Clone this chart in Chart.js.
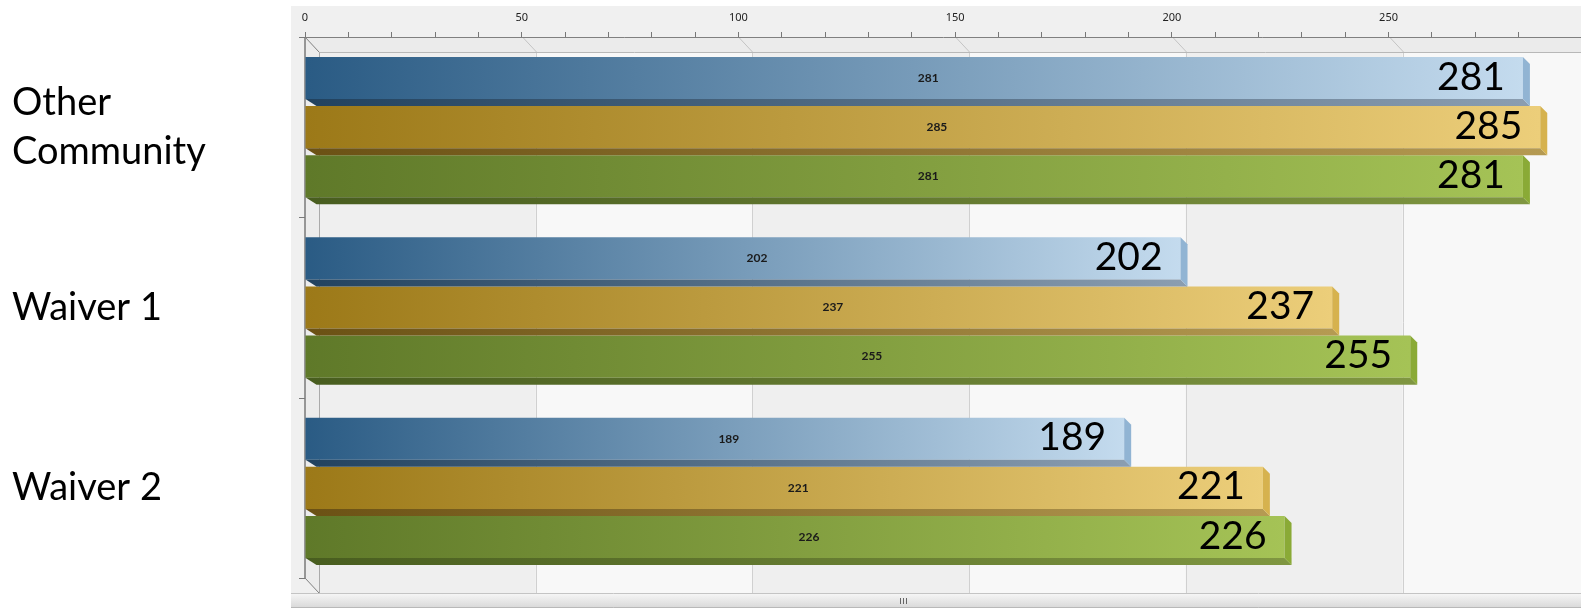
<!DOCTYPE html>
<html lang="en">
<head>
<meta charset="UTF-8">
<title>Other Community / Waiver 1 / Waiver 2</title>
<style>
    body { margin: 0; background: #fff; }
    canvas { display: block; }
</style>
<script src="https://cdn.jsdelivr.net/npm/chart.js"></script>
</head>
<body>
<canvas id="chart" width="1581" height="609"></canvas>
<script>
// data
const categories = [['Other', 'Community'], 'Waiver 1', 'Waiver 2'];
const seriesNames = ['Series 1', 'Series 2', 'Series 3'];
const series1 = [281, 202, 189];
const series2 = [285, 237, 221];
const series3 = [281, 255, 226];
const axisMax = 294.4;
const minorStep = 10;
const labelStep = 50;

// per series: bar left, bar right, bottom face left, bottom face right, end face
const palette = [
    ['#2a5b84', '#c4dbee', '#21425f', '#8a9db0', '#91b4d3'],
    ['#9c7918', '#ecce7a', '#6b5114', '#b59a52', '#d6b24e'],
    ['#5f7929', '#a5c356', '#485d1f', '#7f9641', '#8aaa36']
];

const DX = 14, DY = 15;   // depth of the walls
const BD = 7;             // depth of a bar

function barGradient(di) {
    return (c) => {
        const x = c.chart.scales.x;
        if (!x || c.type !== 'data') return palette[di][0];
        const x0 = x.getPixelForValue(0), x1 = x.getPixelForValue(c.raw);
        if (!Number.isFinite(x0) || !Number.isFinite(x1) || x0 === x1) return palette[di][0];
        const g = c.chart.ctx.createLinearGradient(x0, 0, x1, 0);
        g.addColorStop(0, palette[di][0]);
        g.addColorStop(1, palette[di][1]);
        return g;
    };
}

// grey panel, walls, grid and scroll bar
const wallsPlugin = {
    id: 'walls',
    beforeDraw(chart) {
        const { ctx, chartArea: a, scales: { x } } = chart;
        const W = chart.width, H = chart.height;
        ctx.save();
        ctx.fillStyle = '#ffffff';
        ctx.fillRect(0, 0, W, H);
        ctx.fillStyle = '#f0f0f0';
        ctx.fillRect(a.left - 14, 6, W - a.left + 14, H - 7);

        const wallTop = a.top + DY, wallBottom = a.bottom + DY;
        // back wall bands
        let k = 0;
        for (let v = 0; v < axisMax; v += labelStep, k++) {
            const x1 = x.getPixelForValue(v) + DX;
            const x2 = Math.min(x.getPixelForValue(v + labelStep) + DX, a.right);
            ctx.fillStyle = k % 2 === 0 ? '#efefef' : '#f8f8f8';
            ctx.fillRect(x1, wallTop, x2 - x1, wallBottom - wallTop);
        }
        // top wall
        ctx.fillStyle = '#ebebeb';
        ctx.beginPath();
        ctx.moveTo(a.left, a.top); ctx.lineTo(a.right, a.top);
        ctx.lineTo(a.right, wallTop); ctx.lineTo(a.left + DX, wallTop);
        ctx.closePath(); ctx.fill();
        // left wall
        ctx.fillStyle = '#ececec';
        ctx.beginPath();
        ctx.moveTo(a.left, a.top); ctx.lineTo(a.left + DX, wallTop);
        ctx.lineTo(a.left + DX, wallBottom); ctx.lineTo(a.left, a.bottom);
        ctx.closePath(); ctx.fill();

        ctx.lineWidth = 1;
        for (let v = labelStep; v < axisMax; v += labelStep) {
            const xf = Math.round(x.getPixelForValue(v)) + 0.5;
            const xb = xf + DX;
            ctx.strokeStyle = '#d0d0d0';
            ctx.beginPath(); ctx.moveTo(xb, wallTop); ctx.lineTo(xb, wallBottom); ctx.stroke();
            ctx.strokeStyle = '#c4c4c4';
            ctx.beginPath(); ctx.moveTo(xf, a.top); ctx.lineTo(xb, wallTop); ctx.stroke();
        }
        ctx.strokeStyle = '#b8b8b8';
        ctx.beginPath(); ctx.moveTo(a.left + DX, wallTop + 0.5); ctx.lineTo(a.right, wallTop + 0.5); ctx.stroke();
        ctx.strokeStyle = '#aaaaaa';
        ctx.beginPath(); ctx.moveTo(a.left + DX + 0.5, wallTop); ctx.lineTo(a.left + DX + 0.5, wallBottom); ctx.stroke();

        // front frame
        ctx.strokeStyle = '#808080';
        ctx.beginPath(); ctx.moveTo(a.left, a.top); ctx.lineTo(a.left + DX, wallTop); ctx.stroke();
        ctx.beginPath(); ctx.moveTo(a.left, a.bottom); ctx.lineTo(a.left + DX, wallBottom); ctx.stroke();
        ctx.lineWidth = 1.5;
        ctx.strokeStyle = '#7a7a7a';
        ctx.beginPath(); ctx.moveTo(a.left, a.top); ctx.lineTo(a.left, a.bottom); ctx.stroke();
        ctx.lineWidth = 1;
        const n = categories.length;
        for (let i = 0; i <= n; i++) {
            const yy = Math.round(a.top + i * a.height / n) + 0.5;
            ctx.beginPath(); ctx.moveTo(a.left - 6, yy); ctx.lineTo(a.left, yy); ctx.stroke();
        }

        // scroll bar
        const sTop = wallBottom;
        const g = ctx.createLinearGradient(0, sTop, 0, H - 1);
        g.addColorStop(0, '#f7f7f7');
        g.addColorStop(1, '#d8d8d8');
        ctx.fillStyle = g;
        ctx.fillRect(a.left - 14, sTop, W - a.left + 14, H - 1 - sTop);
        ctx.strokeStyle = '#c4c4c4';
        ctx.beginPath(); ctx.moveTo(a.left - 14, sTop + 0.5); ctx.lineTo(W, sTop + 0.5); ctx.stroke();
        ctx.strokeStyle = '#b8b8b8';
        ctx.beginPath(); ctx.moveTo(a.left - 14, H - 1.5); ctx.lineTo(W, H - 1.5); ctx.stroke();
        ctx.strokeStyle = '#666';
        for (let i = 0; i < 3; i++) {
            const gx = 900.5 + i * 3;
            ctx.beginPath(); ctx.moveTo(gx, sTop + 5); ctx.lineTo(gx, sTop + 11); ctx.stroke();
        }
        ctx.restore();
    }
};

// bottom and end faces of the bars, then the value labels
const barsPlugin = {
    id: 'bars3d',
    afterDatasetsDraw(chart) {
        const { ctx } = chart;
        ctx.save();
        const metas = chart.data.datasets.map((d, di) => chart.getDatasetMeta(di));
        metas.forEach((meta, di) => {
            meta.data.forEach(bar => {
                const top = bar.y - bar.height / 2, bot = bar.y + bar.height / 2;
                const g = ctx.createLinearGradient(bar.base, 0, bar.x, 0);
                g.addColorStop(0, palette[di][2]);
                g.addColorStop(1, palette[di][3]);
                ctx.fillStyle = g;
                ctx.beginPath();
                ctx.moveTo(bar.base, bot); ctx.lineTo(bar.x, bot);
                ctx.lineTo(bar.x + BD, bot + BD); ctx.lineTo(bar.base + 11, bot + BD);
                ctx.closePath(); ctx.fill();
                ctx.fillStyle = palette[di][4];
                ctx.beginPath();
                ctx.moveTo(bar.x, top); ctx.lineTo(bar.x + BD, top + BD);
                ctx.lineTo(bar.x + BD, bot + BD); ctx.lineTo(bar.x, bot);
                ctx.closePath(); ctx.fill();
            });
        });
        metas.forEach((meta, di) => {
            const values = chart.data.datasets[di].data;
            meta.data.forEach((bar, i) => {
                ctx.textBaseline = 'middle';
                ctx.fillStyle = '#1a1a1a';
                ctx.font = 'bold 12px Lato';
                ctx.textAlign = 'center';
                ctx.fillText(String(values[i]), (bar.base + bar.x) / 2 + DX, bar.y);
                ctx.fillStyle = '#000';
                ctx.font = '39px Lato';
                ctx.textAlign = 'right';
                ctx.fillText(String(values[i]), bar.x - 18, bar.y - 1);
            });
        });
        ctx.restore();
    }
};

const ctx = document.getElementById('chart').getContext('2d');
new Chart(ctx, {
    type: 'bar',
    data: {
        labels: categories,
        datasets: [series1, series2, series3].map((s, di) => ({
            label: seriesNames[di],
            data: s,
            backgroundColor: barGradient(di),
            borderWidth: 0,
            barPercentage: 0.857,
            categoryPercentage: 0.817
        }))
    },
    options: {
        indexAxis: 'y',
        responsive: false,
        devicePixelRatio: 1,
        animation: false,
        layout: { padding: { left: 12, right: 0, top: 0, bottom: 31 } },
        scales: {
            x: {
                position: 'top',
                min: 0,
                max: axisMax,
                afterFit: (s) => { s.height = 37; s.paddingLeft = 0; s.paddingRight = 0; },
                ticks: {
                    stepSize: minorStep,
                    autoSkip: false,
                    maxRotation: 0,
                    padding: 8,
                    color: '#222',
                    font: { family: 'Noto Sans', size: 11 },
                    callback: (v) => (v % labelStep === 0 ? v : '')
                },
                grid: { drawOnChartArea: false, drawTicks: true, tickLength: 5, tickColor: '#777' },
                border: { color: '#808080' }
            },
            y: {
                afterFit: (s) => { s.width = 293; s.paddingTop = 0; s.paddingBottom = 0; },
                ticks: {
                    crossAlign: 'far',
                    color: '#000',
                    font: { family: 'Lato', size: 38, lineHeight: 1.29 }
                },
                grid: { display: false },
                border: { display: false }
            }
        },
        plugins: {
            legend: { display: false },
            tooltip: { enabled: false }
        }
    },
    plugins: [wallsPlugin, barsPlugin]
});
</script>
</body>
</html>
